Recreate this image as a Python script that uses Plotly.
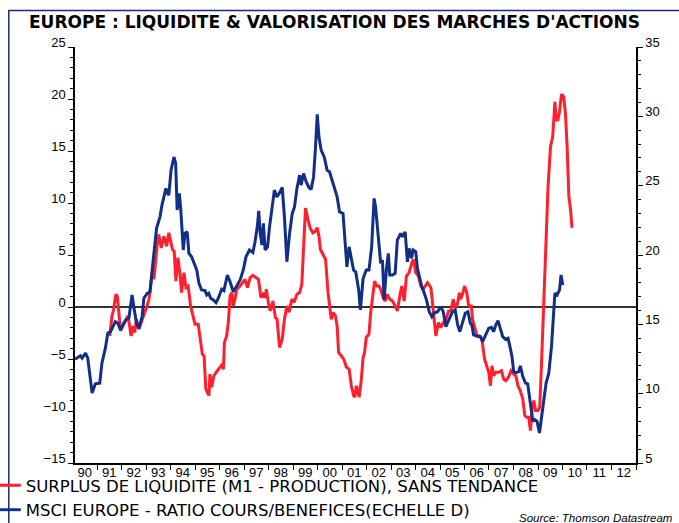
import pandas as pd
import plotly.graph_objects as go

liq_t = [1991.52, 1991.61, 1991.68, 1991.77, 1991.83, 1991.89, 1991.96, 1992.05, 1992.16, 1992.26,
         1992.34, 1992.39, 1992.47, 1992.54, 1992.61, 1992.71, 1992.80, 1992.91, 1993.02, 1993.12,
         1993.21, 1993.28, 1993.32, 1993.39, 1993.46, 1993.52, 1993.62, 1993.73, 1993.84, 1993.93,
         1994.00, 1994.08, 1994.15, 1994.22, 1994.30, 1994.38, 1994.45, 1994.55, 1994.63, 1994.72,
         1994.82, 1994.93, 1995.00, 1995.13, 1995.23, 1995.30, 1995.37, 1995.44, 1995.50, 1995.57,
         1995.61, 1995.68, 1995.77, 1995.89, 1995.98, 1996.09, 1996.16, 1996.20, 1996.29, 1996.36,
         1996.43, 1996.50, 1996.56, 1996.63, 1996.70, 1996.84, 1996.95, 1997.04, 1997.14, 1997.25,
         1997.36, 1997.45, 1997.59, 1997.69, 1997.77, 1997.85, 1997.91, 1997.99, 1998.07, 1998.18,
         1998.28, 1998.35, 1998.45, 1998.56, 1998.65, 1998.75, 1998.84, 1998.95, 1999.05, 1999.16,
         1999.27, 1999.36, 1999.45, 1999.51, 1999.61, 1999.70, 1999.81, 1999.91, 1999.99, 2000.06,
         2000.12, 2000.23, 2000.33, 2000.43, 2000.49, 2000.56, 2000.64, 2000.73, 2000.80, 2000.86,
         2000.97, 2001.07, 2001.18, 2001.29, 2001.38, 2001.47, 2001.52, 2001.59, 2001.70, 2001.79,
         2001.86, 2001.91, 2001.99, 2002.10, 2002.17, 2002.24, 2002.33, 2002.42, 2002.51, 2002.58,
         2002.68, 2002.76, 2002.85, 2002.95, 2003.06, 2003.17, 2003.26, 2003.36, 2003.44, 2003.54,
         2003.63, 2003.74, 2003.85, 2003.92, 2004.01, 2004.12, 2004.22, 2004.31, 2004.40, 2004.49,
         2004.63, 2004.72, 2004.83, 2004.94, 2005.03, 2005.13, 2005.24, 2005.35, 2005.44, 2005.54,
         2005.62, 2005.71, 2005.79, 2005.84, 2005.92, 2006.00, 2006.09, 2006.17, 2006.28, 2006.33,
         2006.41, 2006.51, 2006.61, 2006.71, 2006.82, 2006.92, 2006.99, 2007.06, 2007.12, 2007.19,
         2007.28, 2007.39, 2007.51, 2007.60, 2007.69, 2007.80, 2007.90, 2008.01, 2008.10, 2008.18,
         2008.28, 2008.38, 2008.46, 2008.54, 2008.62, 2008.69, 2008.76, 2008.83, 2008.90, 2009.00,
         2009.07, 2009.14, 2009.24, 2009.33, 2009.41, 2009.51, 2009.60, 2009.69, 2009.74, 2009.81,
         2009.88, 2009.96, 2010.05, 2010.12, 2010.19, 2010.26, 2010.33, 2010.39]
liq_val = [-2.78, -0.86, -0.22, 1.22, 1.02, -0.22, -2.30, -1.85, -1.34, -0.86,
           -1.97, -2.78, -1.82, -2.45, -1.18, -2.14, -1.49, -0.86, -0.06, 0.74,
           2.34, 3.77, 2.65, 4.89, 6.17, 6.96, 5.69, 6.80, 5.84, 7.13,
           6.48, 5.53, 5.34, 2.49, 4.73, 3.32, 1.38, 3.30, 1.86, 2.01,
           0.10, -1.18, -1.66, -1.66, -3.09, -4.53, -4.72, -7.88, -8.17, -8.52,
           -6.45, -7.72, -6.61, -6.13, -5.90, -5.58, -5.97, -3.41, -2.78, -1.49,
           1.05, 1.38, 0.10, 0.74, 1.70, 2.01, 2.39, 2.65, 1.86, 2.82,
           3.04, 2.91, 2.65, 0.90, 1.22, 0.90, 1.70, 0.45, -0.38, 0.57,
           -1.02, -1.18, -3.89, -3.09, -1.18, 0.10, -0.51, 0.74, 0.45, 1.22,
           1.38, 2.17, 6.48, 9.52, 8.40, 7.61, 7.13, 7.28, 7.61, 6.80,
           5.53, 5.05, 4.57, 1.38, -0.06, -1.18, -0.54, -0.86, -1.82, -4.37,
           -4.69, -5.01, -5.80, -5.97, -7.57, -8.52, -8.65, -7.57, -8.68, -6.93,
           -4.85, -4.53, -2.93, -2.61, -0.54, 0.90, 2.49, 2.01, 2.01, 1.70,
           0.90, 0.57, 1.22, 0.74, 0.57, 0.10, -0.38, 1.05, 2.01, 0.57,
           2.97, 3.30, 4.25, 4.57, 3.30, 2.97, 2.01, 1.70, 2.01, 2.34,
           1.86, -0.38, -2.78, -1.49, -1.97, -1.49, -1.18, -0.38, -0.38, 0.74,
           -0.06, 0.26, 1.38, 0.74, 1.22, 2.01, 1.41, 0.10, 0.10, -1.18,
           -1.97, -2.78, -2.78, -3.09, -5.01, -5.65, -6.28, -7.57, -5.65, -6.61,
           -6.28, -6.28, -6.13, -6.93, -7.09, -6.73, -6.13, -6.45, -6.61, -7.57,
           -8.05, -8.84, -10.44, -10.59, -10.59, -11.88, -9.80, -9.00, -9.96, -9.96,
           -9.64, -5.65, 0.10, 5.84, 11.59, 15.42, 16.38, 19.73, 17.98, 17.98,
           18.77, 20.47, 20.21, 18.62, 15.42, 10.63, 9.36, 7.61]

per_t = [1990.10, 1990.18, 1990.32, 1990.39, 1990.53, 1990.62, 1990.70, 1990.80, 1990.93, 1991.11,
         1991.20, 1991.34, 1991.44, 1991.55, 1991.65, 1991.75, 1991.85, 1991.96, 1992.09, 1992.20,
         1992.30, 1992.37, 1992.43, 1992.50, 1992.61, 1992.71, 1992.84, 1992.91, 1993.05, 1993.16,
         1993.25, 1993.32, 1993.43, 1993.57, 1993.65, 1993.73, 1993.81, 1993.87, 1993.93, 1994.02,
         1994.14, 1994.21, 1994.27, 1994.36, 1994.42, 1994.52, 1994.59, 1994.68, 1994.75, 1994.86,
         1994.96, 1995.07, 1995.16, 1995.27, 1995.41, 1995.48, 1995.56, 1995.64, 1995.75, 1995.86,
         1995.95, 1996.09, 1996.18, 1996.32, 1996.43, 1996.56, 1996.70, 1996.84, 1996.97, 1997.08,
         1997.22, 1997.36, 1997.45, 1997.55, 1997.60, 1997.66, 1997.73, 1997.79, 1997.86, 1997.96,
         1998.04, 1998.18, 1998.24, 1998.34, 1998.45, 1998.56, 1998.65, 1998.75, 1998.86, 1998.97,
         1999.06, 1999.16, 1999.27, 1999.33, 1999.43, 1999.54, 1999.65, 1999.74, 1999.84, 1999.92,
         1999.99, 2000.06, 2000.15, 2000.28, 2000.39, 2000.49, 2000.59, 2000.70, 2000.80, 2000.90,
         2001.04, 2001.14, 2001.20, 2001.29, 2001.38, 2001.47, 2001.56, 2001.68, 2001.75, 2001.86,
         2001.99, 2002.10, 2002.21, 2002.31, 2002.37, 2002.49, 2002.58, 2002.65, 2002.72, 2002.81,
         2002.89, 2002.95, 2003.06, 2003.17, 2003.26, 2003.40, 2003.47, 2003.58, 2003.67, 2003.74,
         2003.84, 2003.90, 2004.01, 2004.08, 2004.18, 2004.26, 2004.36, 2004.45, 2004.56, 2004.67,
         2004.76, 2004.90, 2005.03, 2005.13, 2005.24, 2005.38, 2005.51, 2005.62, 2005.72, 2005.81,
         2005.92, 2006.03, 2006.14, 2006.24, 2006.30, 2006.37, 2006.51, 2006.65, 2006.74, 2006.85,
         2006.99, 2007.10, 2007.19, 2007.28, 2007.37, 2007.46, 2007.56, 2007.67, 2007.78, 2007.87,
         2007.94, 2008.01, 2008.10, 2008.21, 2008.28, 2008.38, 2008.49, 2008.58, 2008.66, 2008.73,
         2008.79, 2008.87, 2008.96, 2009.06, 2009.14, 2009.24, 2009.33, 2009.44, 2009.55, 2009.62,
         2009.69, 2009.78, 2009.88, 2009.94, 2010.01]
per_val = [12.49, 12.56, 12.73, 12.56, 12.92, 12.56, 11.48, 10.04, 10.71, 10.76,
           12.20, 13.28, 14.36, 14.47, 14.83, 15.19, 15.08, 14.60, 15.08, 15.37,
           15.44, 16.27, 17.12, 16.27, 15.08, 14.72, 15.55, 16.88, 17.24, 17.35,
           18.68, 20.12, 21.94, 22.75, 23.60, 24.17, 24.80, 24.46, 24.32, 26.12,
           27.07, 26.60, 23.24, 24.44, 23.24, 20.36, 21.56, 21.67, 20.12, 19.87,
           19.40, 18.92, 17.96, 17.48, 17.43, 17.12, 17.24, 16.88, 16.76, 16.56,
           16.88, 17.53, 17.43, 18.56, 18.07, 17.35, 17.76, 18.20, 18.92, 19.87,
           20.36, 20.19, 20.95, 22.16, 23.19, 21.56, 20.72, 22.28, 20.36, 20.59,
           22.03, 24.19, 24.68, 24.19, 24.48, 24.87, 22.75, 19.51, 21.56, 23.00,
           23.47, 24.80, 25.76, 25.04, 25.88, 25.27, 24.87, 24.73, 25.63, 27.79,
           30.15, 28.51, 27.56, 27.03, 26.12, 26.00, 25.40, 24.68, 24.19, 23.11,
           23.00, 20.59, 19.15, 20.59, 19.64, 18.92, 18.77, 17.48, 16.04, 18.30,
           18.92, 18.92, 20.59, 24.08, 23.47, 21.31, 19.40, 19.64, 16.76, 18.92,
           20.12, 18.56, 18.56, 18.68, 21.08, 21.56, 21.31, 21.67, 19.51, 20.48,
           19.76, 20.36, 20.24, 19.04, 18.20, 17.71, 17.24, 16.76, 15.91, 15.55,
           15.80, 15.91, 16.27, 15.91, 14.83, 15.44, 15.91, 16.04, 14.96, 14.47,
           15.17, 15.80, 15.91, 15.08, 14.96, 14.24, 14.16, 14.11, 13.75, 14.24,
           14.72, 14.79, 14.47, 14.96, 15.27, 14.72, 14.11, 13.93, 14.00, 13.28,
           12.67, 11.59, 11.52, 11.59, 12.00, 11.23, 10.76, 10.71, 9.56, 8.60,
           8.00, 8.12, 8.00, 7.16, 8.36, 9.80, 10.76, 11.48, 13.39, 15.32,
           17.24, 17.12, 17.48, 18.56, 17.84]

TITLE = "EUROPE : LIQUIDITE & VALORISATION DES MARCHES D'ACTIONS"
NAME_LIQ = "SURPLUS DE LIQUIDITE (M1 - PRODUCTION), SANS TENDANCE"
NAME_PER = "MSCI EUROPE - RATIO COURS/BENEFICES(ECHELLE D)"

RED = "#FF1F2D"
BLUE = "#112F86"
FONT = "Liberation Sans, Arial, sans-serif"
WIDE = "DejaVu Sans, Verdana, sans-serif"


def to_date(t):
    y = int(t)
    start = pd.Timestamp(y, 1, 1)
    return start + (pd.Timestamp(y + 1, 1, 1) - start) * (t - y)


fig = go.Figure()
fig.add_trace(go.Scatter(x=[to_date(t) for t in liq_t], y=liq_val, name=NAME_LIQ,
                         mode="lines", line=dict(color=RED, width=3)))
fig.add_trace(go.Scatter(x=[to_date(t) for t in per_t], y=per_val, name=NAME_PER,
                         mode="lines", line=dict(color=BLUE, width=3), yaxis="y2"))

axis_common = dict(showline=True, linecolor="black", linewidth=1.5, ticks="outside",
                   ticklen=5, tickcolor="black", showgrid=False,
                   tickfont=dict(family=FONT, size=13, color="black"))
minor_ticks = dict(dtick=1, ticks="outside", ticklen=3, tickcolor="black")

fig.update_layout(
    width=679, height=523,
    margin=dict(l=75, r=43, t=47, b=60, autoexpand=False),
    paper_bgcolor="white", plot_bgcolor="white",
    font=dict(family=FONT, color="black"),
    showlegend=True,
    legend=dict(x=-0.159, y=-0.012, xanchor="left", yanchor="top",
                font=dict(family=WIDE, size=16.5), tracegroupgap=0, itemwidth=30,
                bgcolor="rgba(0,0,0,0)"),
    xaxis=dict(type="date", range=[to_date(1990.1), to_date(2013.0)],
               dtick="M12", tick0="1990-01-01", tickformat="%y",
               ticklabelmode="period", ticklabelstandoff=-8, **axis_common),
    yaxis=dict(range=[-15, 25], dtick=5, zeroline=True, zerolinecolor="#333333",
               zerolinewidth=2, minor=minor_ticks, ticklabelshift=-5, **axis_common),
    yaxis2=dict(range=[5, 35], dtick=5, overlaying="y", side="right", zeroline=False,
                minor=minor_ticks, ticklabelshift=-5, **axis_common),
)

fig.add_annotation(text="<b>" + TITLE + "</b>", xref="paper", yref="paper",
                   x=-0.0855, y=1.059, xanchor="left", yanchor="middle", showarrow=False,
                   font=dict(family=WIDE, size=17, color="black"))
fig.add_annotation(text="<i>Source: Thomson Datastream</i>", xref="paper", yref="paper",
                   x=1.07, y=-0.132, xanchor="right", yanchor="middle", showarrow=False,
                   font=dict(family="Liberation Sans Narrow, Arial Narrow, " + FONT,
                             size=11.5, color="black"))

# cadre bleu autour du graphique
fig.add_shape(type="rect", xref="paper", yref="paper", x0=-0.118, x1=1.2, y0=-0.3, y1=1.088,
              line=dict(color="#1B2A78", width=1.5), fillcolor="rgba(0,0,0,0)", layer="below")

# page sans marge, pour que la figure occupe toute la fenêtre
fig.write_html("out.html", config={"displayModeBar": False},
               post_script="document.body.style.margin='0';")
